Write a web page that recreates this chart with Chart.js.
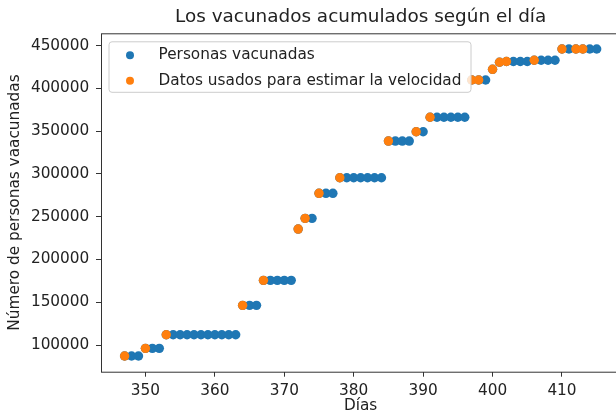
<!DOCTYPE html>
<html>
<head>
<meta charset="utf-8">
<script src="https://cdn.jsdelivr.net/npm/chart.js@4/dist/chart.umd.min.js"></script>
<style>
  html, body { margin: 0; padding: 0; background: #fff; overflow: hidden; }
  #wrap { width: 625px; height: 419px; }
</style>
</head>
<body>
<div id="wrap"><canvas id="vacChart"></canvas></div>
<script>
// all days with data (blue) and the cumulative vaccinated count
const dias = [347, 348, 349, 350, 351, 352, 353, 354, 355, 356, 357, 358, 359, 360, 361, 362, 363,
    364, 365, 366, 367, 368, 369, 370, 371, 372, 373, 374, 375, 376, 377, 378, 379, 380, 381, 382,
    383, 384, 385, 386, 387, 388, 389, 390, 391, 392, 393, 394, 395, 396, 397, 398, 399, 400, 401,
    402, 403, 404, 405, 406, 407, 408, 409, 410, 411, 412, 413, 414, 415];
const vacunados = [87100, 87100, 87100, 96100, 96100, 96100, 112000, 112000, 112000, 112000, 112000,
    112000, 112000, 112000, 112000, 112000, 112000, 146400, 146400, 146400, 175600, 175600, 175600,
    175600, 175600, 235600, 248100, 248100, 277400, 277400, 277400, 295600, 295600, 295600, 295600,
    295600, 295600, 295600, 338500, 338500, 338500, 338500, 349400, 349400, 366300, 366300, 366300,
    366300, 366300, 366300, 409900, 409900, 409900, 422400, 430600, 431500, 431500, 431500, 431500,
    433000, 433000, 433000, 433000, 446100, 446100, 446100, 446100, 446100, 446100];

// subset used to estimate the speed (orange)
const diasEstim = [347, 350, 353, 364, 367, 372, 373, 375, 378, 385, 389, 391, 397, 398, 400, 401,
    402, 406, 410, 412, 413];
const vacunadosEstim = [87100, 96100, 112000, 146400, 175600, 235600, 248100, 277400, 295600, 338500,
    349400, 366300, 409900, 409900, 422400, 430600, 431500, 433000, 446100, 446100, 446100];

const xTicks = [350, 360, 370, 380, 390, 400, 410];
const yTicks = [100000, 150000, 200000, 250000, 300000, 350000, 400000, 450000];

const etiquetas = ['Personas vacunadas', 'Datos usados para estimar la velocidad'];
const colores = ['#1f77b4', '#ff7f0e'];
const titulo = 'Los vacunados acumulados según el día';

const FONT = 'DejaVu Sans';
const TXT = '#222222';
const FS = 15.3;

// matplotlib-like frame, title over the axes and legend inside them
const frameLegend = {
    id: 'frameLegend',
    afterDraw(chart) {
        const {ctx, chartArea: a} = chart;
        ctx.save();
        ctx.strokeStyle = '#333';
        ctx.lineWidth = 1;
        ctx.strokeRect(a.left + 0.5, a.top + 0.5, a.right - a.left, a.bottom - a.top);

        ctx.fillStyle = TXT;
        ctx.font = '18.4px "' + FONT + '"';
        ctx.textAlign = 'center';
        ctx.textBaseline = 'middle';
        ctx.fillText(titulo, (a.left + a.right) / 2, 17.5);

        const bx = a.left + 8, by = a.top + 8.5, bw = 362, bh = 50.5, r = 3;
        ctx.beginPath();
        ctx.roundRect(bx, by, bw, bh, r);
        ctx.fillStyle = 'rgba(255,255,255,0.8)';
        ctx.fill();
        ctx.strokeStyle = '#cccccc';
        ctx.stroke();

        ctx.font = FS + 'px "' + FONT + '"';
        ctx.textAlign = 'left';
        chart.data.datasets.forEach((ds, i) => {
            const cy = by + 13.5 + i * 25.5;
            ctx.beginPath();
            ctx.arc(bx + 21, cy, 4, 0, Math.PI * 2);
            ctx.fillStyle = ds.backgroundColor;
            ctx.fill();
            ctx.fillStyle = TXT;
            ctx.fillText(ds.label, bx + 49.5, cy);
        });
        ctx.restore();
    }
};

new Chart(document.getElementById('vacChart'), {
    type: 'scatter',
    data: {
        datasets: [{
            label: etiquetas[0],
            data: dias.map((d, i) => ({x: d, y: vacunados[i]})),
            backgroundColor: colores[0],
            borderWidth: 0,
            pointRadius: 4.7,
            order: 1
        }, {
            label: etiquetas[1],
            data: diasEstim.map((d, i) => ({x: d, y: vacunadosEstim[i]})),
            backgroundColor: colores[1],
            borderWidth: 0,
            pointRadius: 4.7,
            order: 0
        }]
    },
    options: {
        responsive: true,
        maintainAspectRatio: false,
        animation: false,
        layout: { padding: {left: 0, right: 4.4, top: 33.3, bottom: 0} },
        plugins: {
            legend: { display: false },
            tooltip: { enabled: false },
            title: { display: false }
        },
        scales: {
            x: {
                type: 'linear',
                min: 343.6,
                max: 418.4,
                border: { display: false },
                grid: { drawOnChartArea: false, drawTicks: true, tickLength: 5, color: '#333' },
                afterBuildTicks: s => { s.ticks = xTicks.map(v => ({value: v})); },
                ticks: {
                    padding: 4.8,
                    color: TXT, font: { family: FONT, size: FS },
                    callback: v => String(v)
                },
                title: {
                    display: true, text: 'Días', color: TXT,
                    font: { family: FONT, size: FS }, padding: {top: 0, bottom: 4}
                },
                afterFit: s => { s.height = 47.3; }
            },
            y: {
                min: 68800,
                max: 464500,
                border: { display: false },
                grid: { drawOnChartArea: false, drawTicks: true, tickLength: 5, color: '#333' },
                afterBuildTicks: s => { s.ticks = yTicks.map(v => ({value: v})); },
                ticks: {
                    padding: 6.7,
                    color: TXT, font: { family: FONT, size: FS },
                    callback: v => String(v)
                },
                title: {
                    display: true, text: 'Número de personas vaacunadas', color: TXT,
                    font: { family: FONT, size: FS }, padding: {top: 5.8, bottom: 0}
                },
                afterFit: s => { s.width = 101; }
            }
        }
    },
    plugins: [frameLegend]
});
</script>
</body>
</html>
